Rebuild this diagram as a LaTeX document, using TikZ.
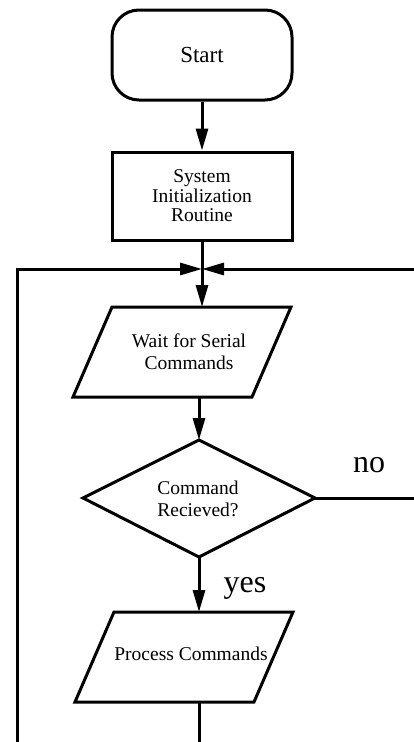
\documentclass[tikz,border=0pt]{standalone}
\usepackage{fontspec}
\setmainfont{Liberation Serif}
\usetikzlibrary{arrows.meta}
\begin{document}
\begin{tikzpicture}[x=1pt,y=-1pt,
  line width=3pt,
  flow/.style={-{Triangle[length=22pt,width=12pt]}},
  boxtext/.style={font=\fontsize{19.5}{22}\selectfont, align=center, inner sep=0pt},
  lbl/.style={font=\fontsize{32}{36}\selectfont, anchor=base, inner sep=0pt}]
\useasboundingbox (0,0) rectangle (414,742);
\clip (0,0) rectangle (414,742);

% terminal and process box
\node[draw, rounded corners=27pt, minimum width=180pt, minimum height=90pt,
      font=\fontsize{23}{26}\selectfont] (start) at (202,55) {Start};
\node[draw, minimum width=180pt, minimum height=88pt, boxtext,
      font=\fontsize{19.5}{19.5}\selectfont] (init) at (202,196) {System\\Initialization\\Routine};

% input parallelogram: wait for commands
\coordinate (waitNW) at (112,307);
\coordinate (waitNE) at (291,307);
\coordinate (waitSE) at (252,397);
\coordinate (waitSW) at (73,397);
\draw (waitNW) -- (waitNE) -- (waitSE) -- (waitSW) -- cycle;
\node[boxtext] (wait) at (189,352) {Wait for Serial\\Commands};
\coordinate (waitIn) at (202,307);
\coordinate (waitOut) at (199,397);

% decision diamond
\coordinate (decN) at (199,440);
\coordinate (decE) at (315,498);
\coordinate (decS) at (199,557);
\coordinate (decW) at (83,498);
\draw (decN) -- (decE) -- (decS) -- (decW) -- cycle;
\node[boxtext] (dec) at (198,499) {Command\\Recieved?};

% processing parallelogram
\coordinate (procNW) at (114,612);
\coordinate (procNE) at (293,612);
\coordinate (procSE) at (254,702);
\coordinate (procSW) at (75,702);
\draw (procNW) -- (procNE) -- (procSE) -- (procSW) -- cycle;
\node[boxtext] (proc) at (191,654) {Process Commands};
\coordinate (procIn) at (199,612);
\coordinate (procOut) at (199,702);

% loop junction and off-page ends
\coordinate (junction) at (202,269);
\coordinate (loopL) at (17,760);
\coordinate (loopR) at (430,269);
\coordinate (noEnd) at (430,498);
\coordinate (procEnd) at (199,760);

% connectors
\draw[flow] (start.south) -- (init.north);
\draw (init.south) -- (junction);
\draw[flow] (junction) -- (waitIn);
\draw[flow] (loopL) |- (junction);
\draw[flow] (loopR) -- (junction);
\draw[flow] (waitOut) -- (decN);
\draw (decE) -- (noEnd);
\draw[flow] (decS) -- (procIn);
\draw (procOut) -- (procEnd);

% branch labels
\node[lbl] (no) at (369,472) {no};
\node[lbl] (yes) at (245,592) {yes};
\end{tikzpicture}
\end{document}
